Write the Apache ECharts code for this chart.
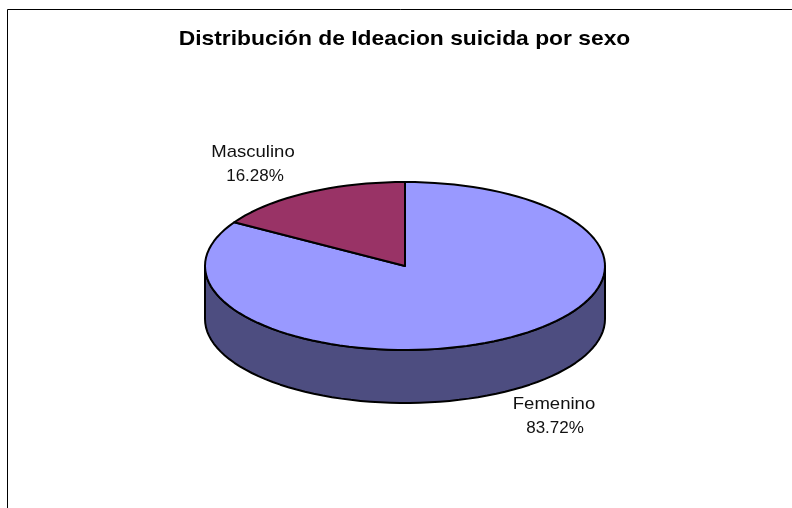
<!DOCTYPE html>
<html>
<head>
<meta charset="utf-8">
<style>html,body{margin:0;padding:0;background:#fff}#chart{width:792px;height:508px}</style>
<script src="https://cdn.jsdelivr.net/npm/echarts@6/dist/echarts.min.js"></script>
</head>
<body>
<div id="chart"></div>
<script>
// Sex distribution of suicidal ideation, drawn as a tilted disc.
const categories = ['Femenino', 'Masculino'];
const percentages = [83.72, 16.28];
const topColors = ['#9999FF', '#993366'];
const wallColors = ['#4D4D80', '#4D1A33'];
const chartTitle = 'Distribución de Ideacion suicida por sexo';

const disc = { cx: 405, cy: 266, rx: 200, ry: 84, depth: 53 };
const nameSpots = [{ x: 149, y: 138 }, { x: -152, y: -114 }];
const shareSpots = [{ x: 150, y: 162 }, { x: -150, y: -90 }];
const FONT_FAMILY = '"Liberation Sans", Arial, sans-serif';

const total = percentages.reduce((a, b) => a + b, 0);
const TURN = Math.PI * 2;

// Angles run clockwise from twelve o'clock.
const rimPoint = (a, dy) => [
  disc.cx + disc.rx * Math.sin(a),
  disc.cy - disc.ry * Math.cos(a) + (dy || 0)
];

// The rim is a chain of short straight facets.
function arcPoints(a0, a1, dy) {
  const steps = Math.max(2, Math.ceil(Math.abs(a1 - a0) / 0.05));
  const pts = [];
  for (let i = 0; i <= steps; i++) pts.push(rimPoint(a0 + (a1 - a0) * i / steps, dy));
  return pts;
}

function sliceAngles(index) {
  let before = 0;
  for (let i = 0; i < index; i++) before += percentages[i];
  return [before / total * TURN, (before + percentages[index]) / total * TURN];
}

const outline = { stroke: '#000', lineWidth: 2, lineJoin: 'round' };

// The side wall shows only along the front half of the rim.
function wallShape(index) {
  const [a0, a1] = sliceAngles(index);
  const from = Math.max(a0, TURN / 4);
  const to = Math.min(a1, TURN * 3 / 4);
  if (to <= from) return null;
  const pts = arcPoints(from, to, 0).concat(arcPoints(to, from, disc.depth));
  return {
    type: 'polygon', z2: 1,
    shape: { points: pts },
    style: Object.assign({ fill: wallColors[index] }, outline)
  };
}

function topShape(index) {
  const [a0, a1] = sliceAngles(index);
  const pts = [[disc.cx, disc.cy]].concat(arcPoints(a0, a1, 0));
  return {
    type: 'polygon', z2: 2,
    shape: { points: pts },
    style: Object.assign({ fill: topColors[index] }, outline)
  };
}

function labelText(text, spot, stretch) {
  return {
    type: 'text', z2: 3,
    x: disc.cx + spot.x,
    y: disc.cy + spot.y,
    scaleX: stretch,
    style: {
      text,
      fill: '#111',
      font: '17px ' + FONT_FAMILY,
      align: 'center',
      verticalAlign: 'middle'
    }
  };
}

const chart = echarts.init(document.getElementById('chart'), null, { renderer: 'canvas' });
chart.setOption({
  animation: false,
  backgroundColor: '#fff',
  graphic: [{
    type: 'rect',
    silent: true,
    shape: { x: 7.5, y: 9.5, width: 800, height: 520 },
    style: { fill: 'none', stroke: '#000', lineWidth: 1 }
  }, {
    type: 'text',
    silent: true,
    x: 404.5,
    y: 39.5,
    scaleX: 1.087,
    style: {
      text: chartTitle,
      fill: '#000',
      font: 'bold 21px ' + FONT_FAMILY,
      align: 'center',
      verticalAlign: 'middle'
    }
  }],
  series: [{
    type: 'custom',
    coordinateSystem: 'none',
    data: percentages,
    renderItem(params) {
      const i = params.dataIndex;
      const children = [
        topShape(i),
        labelText(categories[i], nameSpots[i], 1.09),
        labelText(percentages[i].toFixed(2) + '%', shareSpots[i], 1)
      ];
      const wall = wallShape(i);
      if (wall) children.unshift(wall);
      return { type: 'group', children };
    }
  }]
});
</script>
</body>
</html>
